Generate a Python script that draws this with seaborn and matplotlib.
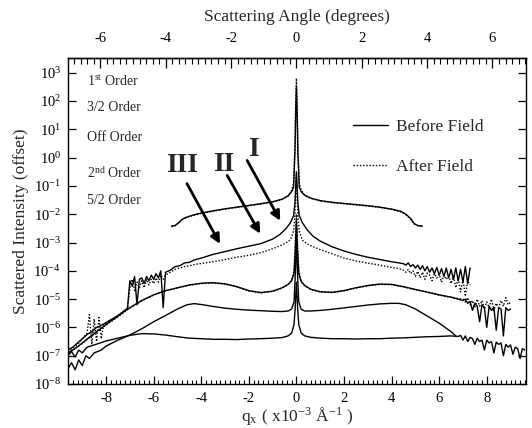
import numpy as np
import matplotlib
matplotlib.use("Agg")
import matplotlib.pyplot as plt
import seaborn as sns
from matplotlib.ticker import LogLocator, LogFormatterMathtext, MultipleLocator, NullLocator, FixedLocator
from matplotlib.lines import Line2D

# ---------------- data (log10 of scattered intensity) ----------------
# 1st order
q_first = [-5.25, -5.1, -4.95, -4.8, -4.6, -4.3, -4.0, -3.5, -3.0, -2.5, -2.0, -1.5, -1.0, -0.6, -0.35,
           -0.2, -0.12, -0.06, -0.03, 0.0, 0.03, 0.06, 0.12, 0.2, 0.35, 0.6, 1.0, 1.5, 2.0, 2.5, 3.0,
           3.5, 4.0, 4.4, 4.6, 4.8, 4.95, 5.1, 5.3]
logI_first_before = [-2.42, -2.40, -2.30, -2.18, -2.10, -2.02, -1.96, -1.88, -1.81, -1.75, -1.69, -1.63, -1.56,
                     -1.47, -1.35, -1.20, -1.05, 0.2, 1.6, 2.52, 1.6, 0.2, -1.05, -1.20, -1.33, -1.43, -1.52,
                     -1.58, -1.62, -1.66, -1.70, -1.75, -1.82, -1.90, -2.00, -2.15, -2.33, -2.40, -2.42]
logI_first_after = [-2.44, -2.41, -2.31, -2.19, -2.11, -2.03, -1.97, -1.89, -1.82, -1.76, -1.70, -1.64, -1.57,
                    -1.48, -1.36, -1.15, -0.90, 0.5, 1.9, 2.80, 1.9, 0.5, -0.90, -1.15, -1.34, -1.44, -1.53,
                    -1.59, -1.63, -1.67, -1.71, -1.76, -1.83, -1.92, -2.02, -2.17, -2.35, -2.41, -2.43]

# 3/2 order
q_three_half = [-9.6, -9.4, -9.2, -9.0, -8.8, -8.7, -8.6, -8.5, -8.4, -8.3, -8.2, -8.1, -7.9, -7.7, -7.5, -7.3, -7.1,
                -7.0, -6.9, -6.8, -6.7, -6.6, -6.5, -6.4, -6.3, -6.2, -6.1, -6.0, -5.9, -5.8, -5.7, -5.6, -5.5,
                -5.3, -5.1, -4.9, -4.7, -4.5, -4.3, -4.0, -3.5, -3.0, -2.5, -2.0, -1.5, -1.0, -0.7, -0.45, -0.25,
                -0.12, -0.06, -0.03, 0.0, 0.03, 0.06, 0.12, 0.25, 0.45, 0.7, 1.0, 1.5, 2.0, 2.5, 3.0, 3.5, 4.0, 4.3,
                4.5, 4.6, 4.7, 4.8, 4.9, 5.0, 5.1, 5.2, 5.3, 5.4, 5.5, 5.6, 5.7, 5.8, 5.9, 6.0, 6.1, 6.2, 6.3,
                6.4, 6.5, 6.6, 6.7, 6.8, 6.9, 7.0, 7.1, 7.2, 7.3]
logI_three_half_before = [-6.80, -6.70, -6.55, -6.40, -6.25, -6.20, -6.15, -6.08, -6.00, -5.97, -5.92, -5.88, -5.78,
                          -5.68, -5.58, -5.45, -5.32,
                          -4.35, -4.55, -4.20, -5.20, -4.30, -4.25, -4.45, -4.20, -4.35, -4.15, -4.30, -4.10, -4.25,
                          -4.00, -5.30, -4.05,
                          -3.98, -3.85, -3.82, -3.72, -3.70, -3.62, -3.55, -3.42, -3.32, -3.22, -3.13, -3.04, -2.88,
                          -2.72, -2.52, -2.30, -2.05, -1.60, -1.00, -0.50, -1.00, -1.60, -2.05, -2.30, -2.55, -2.78,
                          -2.95, -3.15, -3.30, -3.42, -3.52, -3.60, -3.68, -3.72,
                          -3.75, -3.80, -3.72, -3.85, -3.78, -3.90, -3.80, -3.95, -3.82, -4.00, -3.85, -4.05, -3.90,
                          -4.10, -3.88, -4.15, -3.92, -4.20, -3.90, -4.25, -3.95, -4.30, -3.90, -4.35, -3.95, -4.40,
                          -3.85, -4.45, -3.90]
logI_three_half_after = [-6.85, -6.72, -6.60, -6.42, -6.20, -5.55, -6.60, -5.70, -6.50, -5.65, -6.40, -5.90, -5.80,
                         -5.70, -5.60, -5.47, -5.35,
                         -4.60, -4.30, -4.70, -4.40, -4.60, -4.35, -4.60, -4.30, -4.50, -4.30, -4.45, -4.25, -4.40,
                         -4.15, -4.30, -4.15,
                         -4.05, -3.95, -3.90, -3.85, -3.82, -3.78, -3.74, -3.68, -3.60, -3.52, -3.45, -3.36, -3.22,
                         -3.12, -3.02, -2.90, -2.60, -2.00, -1.30, -0.60, -1.30, -2.00, -2.60, -2.92, -3.05, -3.15,
                         -3.25, -3.40, -3.55, -3.65, -3.73, -3.80, -3.88, -3.92,
                         -3.98, -4.05, -3.95, -4.10, -4.00, -4.20, -4.02, -4.25, -4.05, -4.30, -4.08, -4.15, -4.35,
                         -4.10, -4.25, -4.12, -4.40, -4.15, -4.30, -4.18, -4.45, -4.20, -4.60, -4.25, -4.75, -4.30,
                         -4.90, -4.35, -4.50]

# Off order
q_off = [-9.6, -9.3, -9.0, -8.7, -8.4, -8.0, -7.5, -7.0, -6.5, -6.0, -5.5, -5.0, -4.5, -4.0, -3.5, -3.0, -2.5,
         -2.0, -1.5, -1.0, -0.6, -0.35, -0.2, -0.1, -0.05, 0.0, 0.05, 0.1, 0.2, 0.35, 0.6, 1.0, 1.5, 2.0, 2.5,
         3.0, 3.5, 4.0, 4.5, 5.0, 5.5, 6.0, 6.5,
         7.0, 7.1, 7.2, 7.3, 7.4, 7.5, 7.6, 7.7, 7.8, 7.9, 8.0, 8.1, 8.2, 8.3, 8.4, 8.5, 8.6, 8.7, 8.8, 8.9, 9.0]
logI_off_before = [-6.90, -6.75, -6.55, -6.35, -6.15, -5.90, -5.60, -5.30, -5.05, -4.85, -4.70, -4.60, -4.50,
                   -4.44, -4.42, -4.46, -4.56, -4.70, -4.77, -4.72, -4.60, -4.48, -4.35, -4.10, -3.30, -2.20,
                   -3.30, -4.10, -4.38, -4.52, -4.65, -4.74, -4.76, -4.70, -4.60, -4.52, -4.47, -4.48, -4.56,
                   -4.66, -4.75, -4.85, -4.93,
                   -5.05, -5.00, -5.15, -5.08, -5.40, -5.15, -5.25, -5.80, -5.20, -5.30, -6.00, -5.25, -5.40,
                   -5.30, -6.10, -5.30, -5.35, -6.30, -5.30, -5.40, -5.35]
logI_off_after = [-6.92, -6.74, -6.57, -6.36, -6.16, -5.92, -5.62, -5.32, -5.06, -4.86, -4.71, -4.61, -4.51,
                  -4.45, -4.43, -4.47, -4.57, -4.71, -4.78, -4.73, -4.61, -4.49, -4.33, -4.00, -3.10, -2.00,
                  -3.10, -4.00, -4.36, -4.53, -4.66, -4.75, -4.77, -4.71, -4.61, -4.53, -4.48, -4.49, -4.57,
                  -4.67, -4.76, -4.86, -4.94,
                  -5.00, -5.10, -4.95, -5.20, -5.05, -5.30, -5.00, -5.25, -5.05, -5.35, -5.10, -5.30, -5.00,
                  -5.40, -5.15, -5.30, -5.05, -5.25, -4.95, -5.20, -5.10]

# 2nd order
q_second = [-9.6, -9.45, -9.3, -9.15, -9.0, -8.85, -8.7, -8.5, -8.2, -8.0, -7.5, -7.0, -6.5, -6.0, -5.5, -5.0,
            -4.6, -4.3, -4.0, -3.5, -3.0, -2.5, -2.0, -1.5, -1.0, -0.6, -0.35, -0.2, -0.1, -0.05, 0.0, 0.05,
            0.1, 0.2, 0.35, 0.6, 1.0, 1.5, 2.0, 2.5, 3.0, 3.5, 4.0, 4.3, 4.6, 5.0, 5.5, 6.0, 6.5, 6.7]
logI_second = [-7.45, -7.25, -7.50, -7.15, -7.35, -7.00, -7.10, -6.90, -6.80, -6.66, -6.45, -6.27, -6.05, -5.80,
               -5.58, -5.35, -5.20, -5.16, -5.19, -5.26, -5.32, -5.36, -5.39, -5.41, -5.43, -5.44, -5.42, -5.35,
               -5.10, -4.20, -2.90, -4.20, -5.10, -5.36, -5.42, -5.42, -5.40, -5.36, -5.31, -5.26, -5.21, -5.17,
               -5.15, -5.15, -5.20, -5.35, -5.60, -5.85, -6.15, -6.30]

# 5/2 order
q_five_half = [-9.6, -9.45, -9.3, -9.15, -9.0, -8.8, -8.5, -8.0, -7.5, -7.0, -6.5, -6.0, -5.5, -5.0, -4.5, -4.0,
               -3.5, -3.0, -2.5, -2.0, -1.5, -1.0, -0.6, -0.35, -0.2, -0.1, -0.05, 0.0, 0.05, 0.1, 0.2, 0.35,
               0.6, 1.0, 1.5, 2.0, 2.5, 3.0, 3.5, 4.0, 4.5, 5.0, 5.5, 6.0, 6.5,
               6.8, 6.9, 7.0, 7.1, 7.2, 7.3, 7.4, 7.5, 7.6, 7.7, 7.8, 7.9, 8.0, 8.1, 8.2, 8.3, 8.4, 8.5, 8.6,
               8.7, 8.8, 8.9, 9.0, 9.1, 9.2, 9.3, 9.4, 9.5, 9.6]
logI_five_half = [-7.00, -6.85, -7.05, -6.80, -6.90, -6.70, -6.62, -6.48, -6.38, -6.28, -6.22, -6.23, -6.27,
                  -6.33, -6.38, -6.40, -6.42, -6.42, -6.43, -6.41, -6.40, -6.38, -6.36, -6.30, -6.20, -5.90,
                  -5.30, -4.40, -5.30, -5.90, -6.20, -6.30, -6.35, -6.38, -6.40, -6.40, -6.41, -6.40, -6.40,
                  -6.38, -6.37, -6.35, -6.33, -6.32, -6.30,
                  -6.32, -6.28, -6.45, -6.30, -6.50, -6.35, -6.40, -6.60, -6.38, -6.50, -6.45, -6.80, -6.45,
                  -6.55, -6.50, -6.90, -6.52, -6.60, -6.55, -7.00, -6.60, -6.70, -6.62, -6.95, -6.70, -6.75,
                  -7.10, -6.75, -6.80]

order_labels = ["1$^{\\mathregular{st}}$ Order", "3/2 Order", "Off Order",
                "2$^{\\mathregular{nd}}$ Order", "5/2 Order"]
legend_labels = ["Before Field", "After Field"]
roman_labels = ["III", "II", "I"]
angle_ticks = [-6, -4, -2, 0, 2, 4, 6]

# ---------------- style ----------------
sns.set_style("ticks")
plt.rcParams['font.family'] = ['Liberation Serif', 'DejaVu Serif']
plt.rcParams['mathtext.fontset'] = 'stix'
plt.rcParams['axes.linewidth'] = 1.0
plt.rcParams['axes.unicode_minus'] = False

W, H = 532, 428
fig = plt.figure(figsize=(W / 100, H / 100), dpi=100)
L, R, T, B = 68, 526, 58, 384
ax = fig.add_axes([L / W, 1 - B / H, (R - L) / W, (B - T) / H])
ax.set_yscale('log')

DOT = (0, (1.0, 1.3))


def draw(q, logI, dotted=False):
    sns.lineplot(x=np.asarray(q), y=10.0 ** np.asarray(logI), ax=ax, color='black',
                 lw=1.0, linestyle=DOT if dotted else '-',
                 estimator=None, sort=False, legend=False)


draw(q_first, logI_first_after, True)
draw(q_first, logI_first_before)
draw(q_three_half, logI_three_half_after, True)
draw(q_three_half, logI_three_half_before)
draw(q_off, logI_off_after, True)
draw(q_off, logI_off_before)
draw(q_second, logI_second)
draw(q_five_half, logI_five_half)

ax.set_xlim(-9.6, 9.65)
ax.set_ylim(1e-8, 10 ** 3.52)

ax.yaxis.set_major_locator(LogLocator(base=10, numticks=20))
ax.yaxis.set_major_formatter(LogFormatterMathtext())
ax.yaxis.set_minor_locator(NullLocator())
ax.xaxis.set_major_locator(MultipleLocator(2))
ax.xaxis.set_minor_locator(MultipleLocator(0.2))
ax.tick_params(axis='both', which='both', direction='in', top=False, right=True,
               labelsize=10.5, colors='black')
ax.tick_params(axis='both', which='major', length=6, width=0.9)
ax.tick_params(axis='both', which='minor', length=3, width=0.8)
ax.tick_params(axis='y', which='major', pad=5)
ax.tick_params(axis='x', which='major', pad=6)
for s in ax.spines.values():
    s.set_color('black')

K = 0.728
secax = ax.secondary_xaxis('top', functions=(lambda q: q * K, lambda d: d / K))
secax.xaxis.set_major_locator(FixedLocator(angle_ticks))
secax.xaxis.set_minor_locator(MultipleLocator(0.2))
secax.tick_params(axis='x', which='both', direction='in', labelsize=10.5, colors='black')
secax.tick_params(axis='x', which='major', length=7, width=0.9, pad=9)
secax.tick_params(axis='x', which='minor', length=4, width=0.8)
secax.set_xlabel('Scattering Angle (degrees)', fontsize=12.5, labelpad=8)

ax.set_xlabel('q$_{\\mathregular{x}}$ ( x10$^{\\mathregular{-3}}$ \u00c5$^{\\mathregular{-1}}$ )',
              fontsize=12.5, labelpad=0)
ax.set_ylabel('Scattered Intensity (offset)', fontsize=12.5, labelpad=3)

# order labels
ys = [0.927, 0.848, 0.755, 0.648, 0.562]
for lab, yy in zip(order_labels, ys):
    ax.text(0.041, yy, lab, transform=ax.transAxes, fontsize=10, ha='left', va='center')

# roman numerals and arrows
roman_pos = [(-4.81, -0.28), (-3.04, -0.24), (-1.81, 0.29)]
arrow_from = [(-4.6, -0.92), (-2.91, -0.63), (-2.07, -0.10)]
arrow_to = [(-3.21, -3.05), (-1.52, -2.69), (-0.68, -2.23)]
for lab, (rx, ry) in zip(roman_labels, roman_pos):
    ax.text(rx, 10 ** ry, lab, fontsize=20, fontweight='bold', ha='center', va='center')
for (x0, y0), (x1, y1) in zip(arrow_from, arrow_to):
    ax.annotate('', xy=(x1, 10 ** y1), xytext=(x0, 10 ** y0),
                arrowprops=dict(arrowstyle='-|>', lw=2.0, color='black', mutation_scale=14,
                                shrinkA=0, shrinkB=0))

handles = [Line2D([], [], color='black', lw=1.0),
           Line2D([], [], color='black', lw=1.0, linestyle=DOT)]
ax.legend(handles, legend_labels, loc='upper left', bbox_to_anchor=(0.622, 0.812),
          frameon=False, fontsize=12.5, handlelength=2.0, handletextpad=0.5,
          labelspacing=1.35, borderpad=0, borderaxespad=0)

fig.savefig('out.png', dpi=100)
